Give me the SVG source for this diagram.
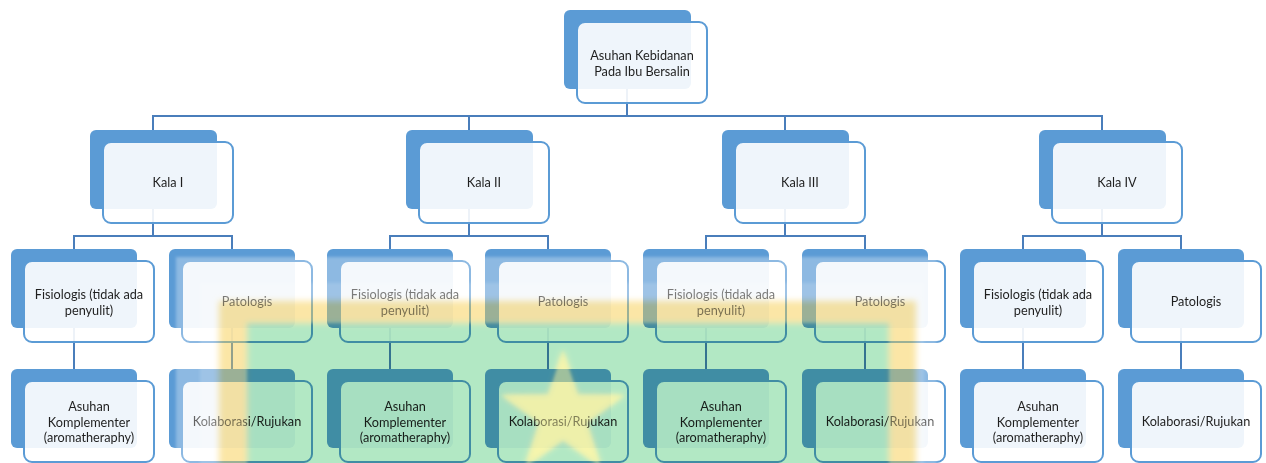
<svg xmlns="http://www.w3.org/2000/svg" width="1266" height="463" viewBox="0 0 1266 463">
<defs>
<style>
.back{fill:#5B9BD5}
.front{fill:#FFFFFF;fill-opacity:0.9;stroke:#5B9BD5;stroke-width:2}
.lbl{font-family:Lato,"Liberation Sans",sans-serif;font-size:12.7px;fill:#1F1F1F;text-anchor:middle}
.conn{fill:none;stroke:#4A7EBB;stroke-width:2}
</style>
<filter id="soft" x="-5%" y="-10%" width="110%" height="130%"><feGaussianBlur stdDeviation="3"/></filter>
<filter id="soft2" x="-10%" y="-10%" width="120%" height="120%"><feGaussianBlur stdDeviation="1.5"/></filter>
</defs>
<rect width="1266" height="463" fill="#FFFFFF"/>
<g id="connectors" class="conn">
<path d="M627 89V116M153 130V116H1102V130M469 116V130M785 116V130"/>
<path d="M153 209V236M74 249V236H232V249"/>
<path d="M469 209V236M390 249V236H548V249"/>
<path d="M785 209V236M706 249V236H865V249"/>
<path d="M1102 209V236M1023 249V236H1181V249"/>
<path d="M74 328V369M232 328V369M390 328V369M548 328V369M706 328V369M865 328V369M1023 328V369M1181 328V369"/>
</g>
<g id="node-root"><rect class="back" x="564" y="10" width="127" height="79" rx="6"/><rect class="front" x="577" y="22" width="130" height="81" rx="8"/><text class="lbl" x="642" y="59.5">Asuhan Kebidanan</text><text class="lbl" x="642" y="75.5">Pada Ibu Bersalin</text></g>
<g id="node-kala1"><rect class="back" x="90" y="130" width="127" height="79" rx="6"/><rect class="front" x="103" y="142" width="130" height="81" rx="8"/><text class="lbl" x="168" y="187">Kala I</text></g>
<g id="node-kala2"><rect class="back" x="406" y="130" width="127" height="79" rx="6"/><rect class="front" x="419" y="142" width="130" height="81" rx="8"/><text class="lbl" x="484" y="187">Kala II</text></g>
<g id="node-kala3"><rect class="back" x="722" y="130" width="127" height="79" rx="6"/><rect class="front" x="735" y="142" width="130" height="81" rx="8"/><text class="lbl" x="800" y="187">Kala III</text></g>
<g id="node-kala4"><rect class="back" x="1039" y="130" width="127" height="79" rx="6"/><rect class="front" x="1052" y="142" width="130" height="81" rx="8"/><text class="lbl" x="1117" y="187">Kala IV</text></g>
<g id="node-fis1"><rect class="back" x="11" y="249" width="126" height="79" rx="6"/><rect class="front" x="24" y="261" width="130" height="81" rx="8"/><text class="lbl" x="89" y="299">Fisiologis (tidak ada</text><text class="lbl" x="89" y="315">penyulit)</text></g>
<g id="node-pat1"><rect class="back" x="169" y="249" width="126" height="79" rx="6"/><rect class="front" x="182" y="261" width="130" height="81" rx="8"/><text class="lbl" x="247" y="306">Patologis</text></g>
<g id="node-fis2"><rect class="back" x="327" y="249" width="126" height="79" rx="6"/><rect class="front" x="340" y="261" width="130" height="81" rx="8"/><text class="lbl" x="405" y="299">Fisiologis (tidak ada</text><text class="lbl" x="405" y="315">penyulit)</text></g>
<g id="node-pat2"><rect class="back" x="485" y="249" width="126" height="79" rx="6"/><rect class="front" x="498" y="261" width="130" height="81" rx="8"/><text class="lbl" x="563" y="306">Patologis</text></g>
<g id="node-fis3"><rect class="back" x="643" y="249" width="126" height="79" rx="6"/><rect class="front" x="656" y="261" width="130" height="81" rx="8"/><text class="lbl" x="721" y="299">Fisiologis (tidak ada</text><text class="lbl" x="721" y="315">penyulit)</text></g>
<g id="node-pat3"><rect class="back" x="802" y="249" width="126" height="79" rx="6"/><rect class="front" x="815" y="261" width="130" height="81" rx="8"/><text class="lbl" x="880" y="306">Patologis</text></g>
<g id="node-fis4"><rect class="back" x="960" y="249" width="126" height="79" rx="6"/><rect class="front" x="973" y="261" width="130" height="81" rx="8"/><text class="lbl" x="1038" y="299">Fisiologis (tidak ada</text><text class="lbl" x="1038" y="315">penyulit)</text></g>
<g id="node-pat4"><rect class="back" x="1118" y="249" width="126" height="79" rx="6"/><rect class="front" x="1131" y="261" width="130" height="81" rx="8"/><text class="lbl" x="1196" y="306">Patologis</text></g>
<g id="node-ask1"><rect class="back" x="11" y="369" width="126" height="79" rx="6"/><rect class="front" x="24" y="381" width="130" height="81" rx="8"/><text class="lbl" x="89" y="411">Asuhan</text><text class="lbl" x="89" y="426.5">Komplementer</text><text class="lbl" x="89" y="442">(aromatheraphy)</text></g>
<g id="node-kol1"><rect class="back" x="169" y="369" width="126" height="79" rx="6"/><rect class="front" x="182" y="381" width="130" height="81" rx="8"/><text class="lbl" x="247" y="426">Kolaborasi/Rujukan</text></g>
<g id="node-ask2"><rect class="back" x="327" y="369" width="126" height="79" rx="6"/><rect class="front" x="340" y="381" width="130" height="81" rx="8"/><text class="lbl" x="405" y="411">Asuhan</text><text class="lbl" x="405" y="426.5">Komplementer</text><text class="lbl" x="405" y="442">(aromatheraphy)</text></g>
<g id="node-kol2"><rect class="back" x="485" y="369" width="126" height="79" rx="6"/><rect class="front" x="498" y="381" width="130" height="81" rx="8"/><text class="lbl" x="563" y="426">Kolaborasi/Rujukan</text></g>
<g id="node-ask3"><rect class="back" x="643" y="369" width="126" height="79" rx="6"/><rect class="front" x="656" y="381" width="130" height="81" rx="8"/><text class="lbl" x="721" y="411">Asuhan</text><text class="lbl" x="721" y="426.5">Komplementer</text><text class="lbl" x="721" y="442">(aromatheraphy)</text></g>
<g id="node-kol3"><rect class="back" x="802" y="369" width="126" height="79" rx="6"/><rect class="front" x="815" y="381" width="130" height="81" rx="8"/><text class="lbl" x="880" y="426">Kolaborasi/Rujukan</text></g>
<g id="node-ask4"><rect class="back" x="960" y="369" width="126" height="79" rx="6"/><rect class="front" x="973" y="381" width="130" height="81" rx="8"/><text class="lbl" x="1038" y="411">Asuhan</text><text class="lbl" x="1038" y="426.5">Komplementer</text><text class="lbl" x="1038" y="442">(aromatheraphy)</text></g>
<g id="node-kol4"><rect class="back" x="1118" y="369" width="126" height="79" rx="6"/><rect class="front" x="1131" y="381" width="130" height="81" rx="8"/><text class="lbl" x="1196" y="426">Kolaborasi/Rujukan</text></g>
<g id="overlay">
<path d="M176 257H937V480H176ZM247 323H889V480H247Z" fill="#FFFFFF" fill-opacity="0.3" fill-rule="evenodd" filter="url(#soft2)"/>
<path d="M200 283H924V480H200ZM247 323H889V480H247Z" fill="#FFFFFF" fill-opacity="0.15" fill-rule="evenodd" filter="url(#soft2)"/>
<g style="mix-blend-mode:multiply" filter="url(#soft)">
<rect x="219" y="301" width="697" height="190" fill="#FBE6A6"/>
<rect x="247" y="323" width="642" height="170" fill="#B2E8C4"/>
<polygon points="563,350 577.7,394.8 624.8,394.9 586.8,422.7 601.2,467.6 563,440 524.8,467.6 539.2,422.7 501.2,394.9 548.3,394.8" fill="#F8F6B0"/>
</g>
<polygon points="563,350 577.7,394.8 624.8,394.9 586.8,422.7 601.2,467.6 563,440 524.8,467.6 539.2,422.7 501.2,394.9 548.3,394.8" fill="#F7F4A6" fill-opacity="0.45" filter="url(#soft2)"/>
</g>
</svg>
